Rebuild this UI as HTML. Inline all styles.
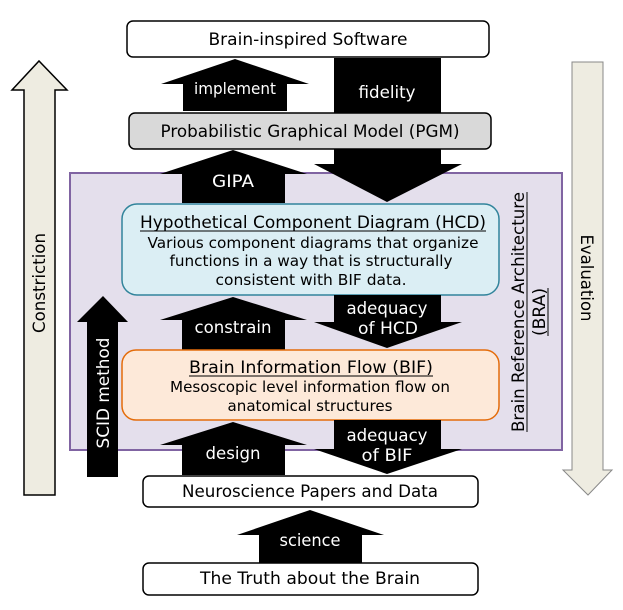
<!DOCTYPE html>
<html><head><meta charset="utf-8"><style>
html,body{margin:0;padding:0;background:#fff}
svg{display:block}
text{font-family:"DejaVu Sans","Liberation Sans",sans-serif;}
</style></head><body>
<svg width="623" height="610" viewBox="0 0 623 610" xmlns="http://www.w3.org/2000/svg">
<!-- Constriction arrow -->
<polygon points="24,495 24,90 12,90 39,61 67,90 55,90 55,495" fill="#eeece1" stroke="#000" stroke-width="1.5"/>
<text transform="translate(45,283) rotate(-90)" font-size="17" text-anchor="middle" textLength="100" lengthAdjust="spacingAndGlyphs" fill="#000">Constriction</text>
<!-- Evaluation arrow -->
<polygon points="572,62 603,62 603,470 612,470 588,495 563,470 572,470" fill="#eeece1" stroke="#888" stroke-width="1"/>
<text transform="translate(581,278) rotate(90)" font-size="17" text-anchor="middle" textLength="87" lengthAdjust="spacingAndGlyphs" fill="#000">Evaluation</text>

<!-- Purple BRA rect -->
<rect x="70" y="173" width="492" height="277" fill="#e4dfec" stroke="#8064a2" stroke-width="2"/>
<text transform="translate(524,312) rotate(-90)" font-size="17" text-anchor="middle" textLength="240" lengthAdjust="spacingAndGlyphs" fill="#000">Brain Reference Architecture</text>
<line x1="527" y1="192" x2="527" y2="432" stroke="#000" stroke-width="1"/>
<text transform="translate(545,312) rotate(-90)" font-size="17" text-anchor="middle" textLength="48" lengthAdjust="spacingAndGlyphs" fill="#000">(BRA)</text>
<line x1="548" y1="288" x2="548" y2="336" stroke="#000" stroke-width="1"/>

<!-- Top box -->
<rect x="127" y="21" width="362" height="36" rx="6" fill="#fff" stroke="#000" stroke-width="1.5"/>
<text x="308" y="45" font-size="17" text-anchor="middle" textLength="199" lengthAdjust="spacingAndGlyphs">Brain-inspired Software</text>

<!-- implement -->
<polygon points="183,111 183,84 161,84 235,59 309,84 287,84 287,111" fill="#000"/>
<text x="235" y="94" font-size="16" text-anchor="middle" fill="#fff" textLength="82" lengthAdjust="spacingAndGlyphs">implement</text>
<!-- fidelity -->
<polygon points="334,58 441,58 441,164 462,164 387,202 314,164 334,164" fill="#000"/>
<text x="387" y="98" font-size="17" text-anchor="middle" fill="#fff" textLength="57" lengthAdjust="spacingAndGlyphs">fidelity</text>

<!-- PGM -->
<rect x="129" y="113" width="362" height="36" rx="6" fill="#d9d9d9" stroke="#000" stroke-width="1.5"/>
<text x="310" y="137" font-size="17" text-anchor="middle" textLength="299" lengthAdjust="spacingAndGlyphs">Probabilistic Graphical Model (PGM)</text>

<!-- GIPA -->
<polygon points="182,203 182,174 160,174 233,150 307,174 285,174 285,203" fill="#000"/>
<text x="233" y="187" font-size="17" text-anchor="middle" fill="#fff" textLength="42" lengthAdjust="spacingAndGlyphs">GIPA</text>

<!-- HCD -->
<rect x="122" y="204" width="377" height="91" rx="15" fill="#dbeef4" stroke="#31849b" stroke-width="1.5"/>
<text x="313" y="228" font-size="17" text-anchor="middle" textLength="346" lengthAdjust="spacingAndGlyphs">Hypothetical Component Diagram (HCD)</text>
<line x1="140" y1="231" x2="486" y2="231" stroke="#000" stroke-width="1"/>
<text x="313" y="248" font-size="15.5" text-anchor="middle" textLength="331" lengthAdjust="spacingAndGlyphs">Various component diagrams that organize</text>
<text x="311" y="266" font-size="15.5" text-anchor="middle" textLength="283" lengthAdjust="spacingAndGlyphs">functions in a way that is structurally</text>
<text x="311" y="285" font-size="15.5" text-anchor="middle" textLength="191" lengthAdjust="spacingAndGlyphs">consistent with BIF data.</text>

<!-- constrain -->
<polygon points="182,350 182,320 160,320 233,297 307,320 285,320 285,350" fill="#000"/>
<text x="233" y="333" font-size="17" text-anchor="middle" fill="#fff" textLength="77" lengthAdjust="spacingAndGlyphs">constrain</text>
<!-- adequacy HCD -->
<polygon points="334,295 441,295 441,322 462,322 387,348 314,322 334,322" fill="#000"/>
<text x="387" y="314" font-size="17" text-anchor="middle" fill="#fff" textLength="81" lengthAdjust="spacingAndGlyphs">adequacy</text>
<text x="388" y="334" font-size="17" text-anchor="middle" fill="#fff" textLength="60" lengthAdjust="spacingAndGlyphs">of HCD</text>

<!-- SCID -->
<polygon points="87,477 87,322 77,322 103,296 128,322 118,322 118,477" fill="#000"/>
<text transform="translate(109,393) rotate(-90)" font-size="17" text-anchor="middle" fill="#fff" textLength="111" lengthAdjust="spacingAndGlyphs">SCID method</text>

<!-- BIF -->
<rect x="122" y="350" width="377" height="70" rx="14" fill="#fde9d9" stroke="#e46c0a" stroke-width="1.5"/>
<text x="311" y="373" font-size="17" text-anchor="middle" textLength="244" lengthAdjust="spacingAndGlyphs">Brain Information Flow (BIF)</text>
<line x1="189" y1="376" x2="433" y2="376" stroke="#000" stroke-width="1"/>
<text x="310" y="392" font-size="15.5" text-anchor="middle" textLength="280" lengthAdjust="spacingAndGlyphs">Mesoscopic level information flow on</text>
<text x="310" y="411" font-size="15.5" text-anchor="middle" textLength="165" lengthAdjust="spacingAndGlyphs">anatomical structures</text>

<!-- design -->
<polygon points="182,475 182,445 160,445 233,422 307,445 285,445 285,475" fill="#000"/>
<text x="233" y="459" font-size="17" text-anchor="middle" fill="#fff" textLength="55" lengthAdjust="spacingAndGlyphs">design</text>
<!-- adequacy BIF -->
<polygon points="334,420 441,420 441,449 462,449 387,474 314,449 334,449" fill="#000"/>
<text x="387" y="441" font-size="17" text-anchor="middle" fill="#fff" textLength="81" lengthAdjust="spacingAndGlyphs">adequacy</text>
<text x="387" y="461" font-size="17" text-anchor="middle" fill="#fff" textLength="51" lengthAdjust="spacingAndGlyphs">of BIF</text>

<!-- Neuro -->
<rect x="143" y="476" width="335" height="31" rx="6" fill="#fff" stroke="#000" stroke-width="1.5"/>
<text x="310" y="497" font-size="17" text-anchor="middle" textLength="256" lengthAdjust="spacingAndGlyphs">Neuroscience Papers and Data</text>

<!-- science -->
<polygon points="259,563 259,535 237,535 310,510 384,535 362,535 362,563" fill="#000"/>
<text x="310" y="546" font-size="17" text-anchor="middle" fill="#fff" textLength="61" lengthAdjust="spacingAndGlyphs">science</text>

<!-- Truth -->
<rect x="143" y="563" width="335" height="32" rx="6" fill="#fff" stroke="#000" stroke-width="1.5"/>
<text x="310" y="584" font-size="17" text-anchor="middle" textLength="220" lengthAdjust="spacingAndGlyphs">The Truth about the Brain</text>
</svg>
</body></html>
